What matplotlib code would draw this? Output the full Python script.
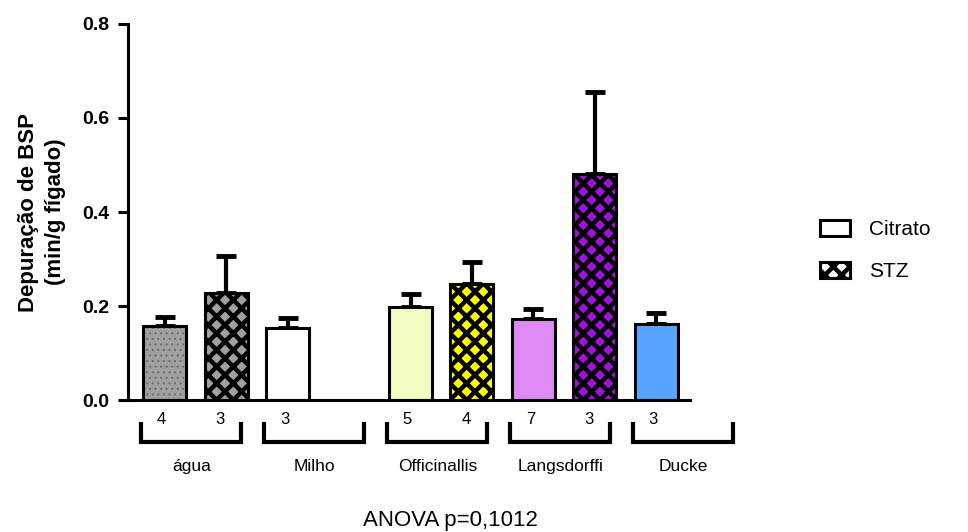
import matplotlib
matplotlib.use("Agg")
import matplotlib.pyplot as plt
from matplotlib.patches import Patch

plt.rcParams['font.family'] = ['Liberation Sans', 'DejaVu Sans']
plt.rcParams['hatch.linewidth'] = 3.2

# data
groups = ['água', 'Milho', 'Officinallis', 'Langsdorffi', 'Ducke']
citrato_mean = [0.157, 0.153, 0.198, 0.172, 0.162]
citrato_sem = [0.020, 0.021, 0.028, 0.022, 0.023]
citrato_n = [4, 3, 5, 7, 3]
stz_mean = [0.228, None, 0.247, 0.481, None]
stz_sem = [0.078, None, 0.047, 0.174, None]
stz_n = [3, None, 4, 3, None]

citrato_colors = ['#A0A0A0', '#FFFFFF', '#F2FBC0', '#E08AF5', '#58A5FF']
stz_colors = ['#A0A0A0', None, '#FFFF00', '#A010E0', None]

fig = plt.figure(figsize=(9.68, 5.32), dpi=100)
ax = fig.add_axes([0.132, 0.248, 0.581, 0.707])

W = 0.7
LW = 2.2


def draw_errbar(x, mean, err):
    ax.errorbar(x, mean, yerr=[[0], [err]], fmt='none', ecolor='black',
                elinewidth=3, capsize=7, capthick=3.5, zorder=1)


for g in range(len(groups)):
    xc = 2 * g
    draw_errbar(xc, citrato_mean[g], citrato_sem[g])
    if g == 0:
        # dotted grey bar: dots layer first, then the black outline
        d = ax.bar(xc, citrato_mean[g], width=W, color=citrato_colors[g],
                   edgecolor='#6E6E6E', linewidth=0, hatch='...', zorder=2)[0]
        if hasattr(d, 'set_hatch_linewidth'):
            d.set_hatch_linewidth(0.8)
        ax.bar(xc, citrato_mean[g], width=W, fill=False, edgecolor='black',
               linewidth=LW, zorder=3)
    else:
        ax.bar(xc, citrato_mean[g], width=W, color=citrato_colors[g],
               edgecolor='black', linewidth=LW, zorder=2)
    ax.text(xc - 0.05, -0.053, str(citrato_n[g]), transform=ax.get_xaxis_transform(),
            ha='center', va='center', fontsize=12)
    if stz_mean[g] is not None:
        draw_errbar(xc + 1, stz_mean[g], stz_sem[g])
        ax.bar(xc + 1, stz_mean[g], width=W, color=stz_colors[g],
               edgecolor='black', linewidth=LW, hatch='xx', zorder=2)
        ax.text(xc + 1 - 0.1, -0.053, str(stz_n[g]), transform=ax.get_xaxis_transform(),
                ha='center', va='center', fontsize=12)

    # group bracket under the axis
    x0, x1 = xc - 0.38, xc + 1.25
    ax.plot([x0, x0, x1, x1], [-0.064, -0.112, -0.112, -0.064],
            transform=ax.get_xaxis_transform(), color='black', lw=3,
            clip_on=False, solid_joinstyle='miter')
    ax.text((x0 + x1) / 2, -0.176, groups[g], transform=ax.get_xaxis_transform(),
            ha='center', va='center', fontsize=12.5)

ax.set_xlim(-0.6, 8.55)
ax.set_ylim(0, 0.8)
ax.set_yticks([0.0, 0.2, 0.4, 0.6, 0.8])
ax.set_yticklabels(['0.0', '0.2', '0.4', '0.6', '0.8'], fontweight='bold', fontsize=14)
ax.set_xticks([])
for s in ['top', 'right']:
    ax.spines[s].set_visible(False)
ax.spines['left'].set_linewidth(LW)
ax.spines['bottom'].set_linewidth(LW)
ax.tick_params(axis='y', length=7, width=LW, pad=6)
ax.set_ylabel('Depuração de BSP\n(min/g fígado)', fontweight='bold', fontsize=16,
              labelpad=12, linespacing=1.4)

handles = [Patch(facecolor='white', edgecolor='black', linewidth=LW, label='Citrato'),
           Patch(facecolor='white', edgecolor='black', linewidth=LW, hatch='xx', label='STZ')]
fig.legend(handles=handles, loc='upper left', bbox_to_anchor=(0.828, 0.622),
           frameon=False, fontsize=15, handlelength=1.45, handleheight=0.8,
           labelspacing=1.1, handletextpad=0.9)

fig.text(0.465, 0.022, 'ANOVA p=0,1012', ha='center', va='center', fontsize=16)

fig.savefig('out.png', dpi=100)
